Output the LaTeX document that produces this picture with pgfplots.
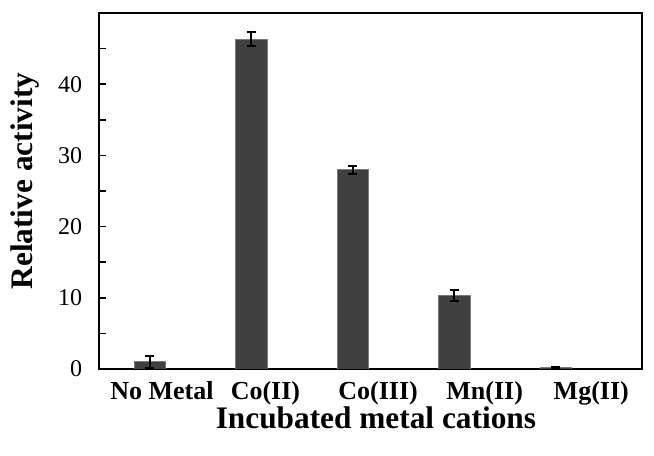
\documentclass[border=0pt]{standalone}
\usepackage{fontspec}
\setmainfont{Liberation Serif}
\usepackage{pgfplots}
\pgfplotsset{compat=1.18}
\definecolor{barfill}{HTML}{404040}
\definecolor{baredge}{HTML}{7A7A7A}
\begin{document}
\begin{tikzpicture}
\useasboundingbox (-74.25pt,-65.25pt) rectangle (416.25pt,276.75pt);
\begin{axis}[
  width=407.25pt, height=267pt, scale only axis,
  xmin=-0.5, xmax=4.85, ymin=0, ymax=50,
  enlargelimits=false,
  axis line style={line width=1.2pt},
  /pgf/number format/assume math mode=true,
  ytick={0,5,10,15,20,25,30,35,40,45},
  yticklabels={0,,10,,20,,30,,40,},
  ytick pos=left,
  tick align=inside,
  major tick length=5.5pt,
  ytick style={line width=1.2pt, black},
  yticklabel style={font=\fontsize{18}{21}\selectfont, inner sep=0pt, anchor=east, xshift=-12.5pt},
  xtick={0.12,1.14,2.25,3.30,4.35},
  xticklabels={No Metal, Co(II), Co(III), Mn(II), Mg(II)},
  xtick style={draw=none},
  xticklabel style={font=\fontsize{19.5}{22}\selectfont\bfseries, inner sep=0pt, anchor=north, yshift=-9pt},
  xlabel={Incubated metal cations},
  ylabel={Relative activity},
  xlabel style={font=\fontsize{23.5}{27}\selectfont\bfseries, at={(axis description cs:0.510,-0.168)}, anchor=base, inner sep=0pt},
  ylabel style={font=\fontsize{23.5}{27}\selectfont\bfseries, at={(axis description cs:-0.1216,0.528)}, anchor=base, inner sep=0pt},
]
\addplot[ybar, bar width=0.31, fill=barfill, draw=baredge, line width=0.6pt,
  error bars/.cd, y dir=both, y explicit,
  error bar style={line width=1.5pt, black},
  error mark options={rotate=90, mark size=3.4pt, line width=1.5pt, black}]
  coordinates {
  (0,1.0) +- (0,0.85)
  (1,46.3) +- (0,1.0)
  (2,28.0) +- (0,0.55)
  (3,10.35) +- (0,0.75)
  (4,0.25) +- (0,0.1)
  };
\end{axis}
\end{tikzpicture}
\end{document}
